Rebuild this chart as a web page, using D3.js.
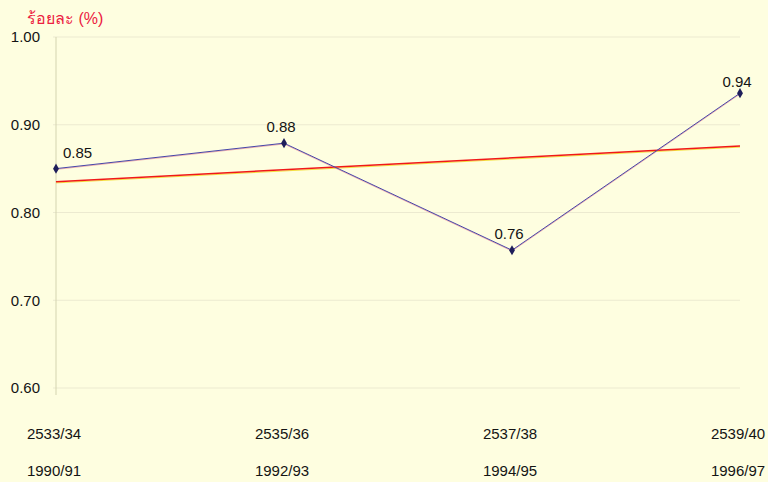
<!DOCTYPE html>
<html>
<head>
<meta charset="utf-8">
<script src="https://d3js.org/d3.v7.min.js"></script>
<style>
  body { margin: 0; background: #fefee0; }
  svg { display: block; font-family: "Liberation Sans", Arial, sans-serif; }
</style>
</head>
<body>
<script>
// data
var thaiYears = ["2533/34", "2535/36", "2537/38", "2539/40"];
var years = ["1990/91", "1992/93", "1994/95", "1996/97"];
var values = [0.850, 0.879, 0.757, 0.936];
var yTicks = [0.60, 0.70, 0.80, 0.90, 1.00];
var yTitle = "ร้อยละ (%)";

var width = 768, height = 482;

// set the ranges
var x = d3.scalePoint().domain(thaiYears).range([56, 740]);
var y = d3.scaleLinear().domain([0.6, 1.0]).range([388, 37]);

var svg = d3.select("body").append("svg")
    .attr("width", width)
    .attr("height", height);

svg.append("rect")
    .attr("width", width)
    .attr("height", height)
    .attr("fill", "#fefee0");

// gridlines
svg.append("g")
    .selectAll("line")
    .data(yTicks)
    .enter().append("line")
    .attr("x1", 53)
    .attr("x2", 740)
    .attr("y1", (d) => y(d))
    .attr("y2", (d) => y(d))
    .attr("stroke", "#ecead0")
    .attr("stroke-width", 1);

// y axis line
svg.append("line")
    .attr("x1", x(thaiYears[0]))
    .attr("x2", x(thaiYears[0]))
    .attr("y1", y(1.0))
    .attr("y2", 395)
    .attr("stroke", "#d4d4b0")
    .attr("stroke-width", 1);

// y tick labels
svg.append("g")
    .selectAll("text")
    .data(yTicks)
    .enter().append("text")
    .attr("x", 40)
    .attr("y", (d) => y(d))
    .attr("dy", "0.35em")
    .attr("text-anchor", "end")
    .attr("font-size", 15)
    .attr("fill", "#141414")
    .text((d) => d3.format(".2f")(d));

// y title
svg.append("text")
    .attr("x", 27)
    .attr("y", 24)
    .attr("font-size", 16)
    .attr("fill", "#ec2040")
    .text(yTitle);

// x labels, two rows
svg.append("g")
    .selectAll("text")
    .data(thaiYears)
    .enter().append("text")
    .attr("x", (d) => x(d) - 2)
    .attr("y", 439)
    .attr("text-anchor", "middle")
    .attr("font-size", 15)
    .attr("fill", "#141414")
    .text((d) => d);

svg.append("g")
    .selectAll("text")
    .data(years)
    .enter().append("text")
    .attr("x", (d, i) => x(thaiYears[i]) - 2)
    .attr("y", 476)
    .attr("text-anchor", "middle")
    .attr("font-size", 15)
    .attr("fill", "#141414")
    .text((d) => d);

// linear trend (least squares) of the series
var n = values.length;
var mx = d3.mean(values, (d, i) => i);
var my = d3.mean(values);
var slope = d3.sum(values, (d, i) => (i - mx) * (d - my)) / d3.sum(values, (d, i) => (i - mx) * (i - mx));
var trend = values.map((d, i) => my + slope * (i - mx));

var trendLine = d3.line()
    .x((d, i) => x(thaiYears[i === 0 ? 0 : n - 1]))
    .y((d) => y(d));

svg.append("path")
    .datum([trend[0], trend[n - 1]])
    .attr("fill", "none")
    .attr("stroke", "#f4e040")
    .attr("stroke-width", 1)
    .attr("transform", "translate(0,1.2)")
    .attr("d", trendLine);

svg.append("path")
    .datum([trend[0], trend[n - 1]])
    .attr("fill", "none")
    .attr("stroke", "#f01818")
    .attr("stroke-width", 1.5)
    .attr("d", trendLine);

// data line
var line = d3.line()
    .x((d, i) => x(thaiYears[i]))
    .y((d) => y(d));

svg.append("path")
    .datum(values)
    .attr("fill", "none")
    .attr("stroke", "#e06080")
    .attr("stroke-width", 1)
    .attr("opacity", 0.5)
    .attr("transform", "translate(0,0.8)")
    .attr("d", line);

svg.append("path")
    .datum(values)
    .attr("fill", "none")
    .attr("stroke", "#4646a8")
    .attr("stroke-width", 1)
    .attr("d", line);

// markers
svg.append("g")
    .selectAll("path")
    .data(values)
    .enter().append("path")
    .attr("transform", (d, i) => "translate(" + x(thaiYears[i]) + "," + y(d) + ")")
    .attr("d", d3.symbol().type(d3.symbolDiamond).size(30))
    .attr("fill", "#1e1e5a");

// value labels
svg.append("g")
    .selectAll("text")
    .data(values)
    .enter().append("text")
    .attr("x", (d, i) => i === 0 ? x(thaiYears[i]) + 7 : x(thaiYears[i]) - 3)
    .attr("y", (d, i) => y(d) - (i === n - 1 ? 6 : 11))
    .attr("text-anchor", (d, i) => i === 0 ? "start" : "middle")
    .attr("font-size", 15)
    .attr("fill", "#141414")
    .text((d) => d3.format(".2f")(d));
</script>
</body>
</html>
